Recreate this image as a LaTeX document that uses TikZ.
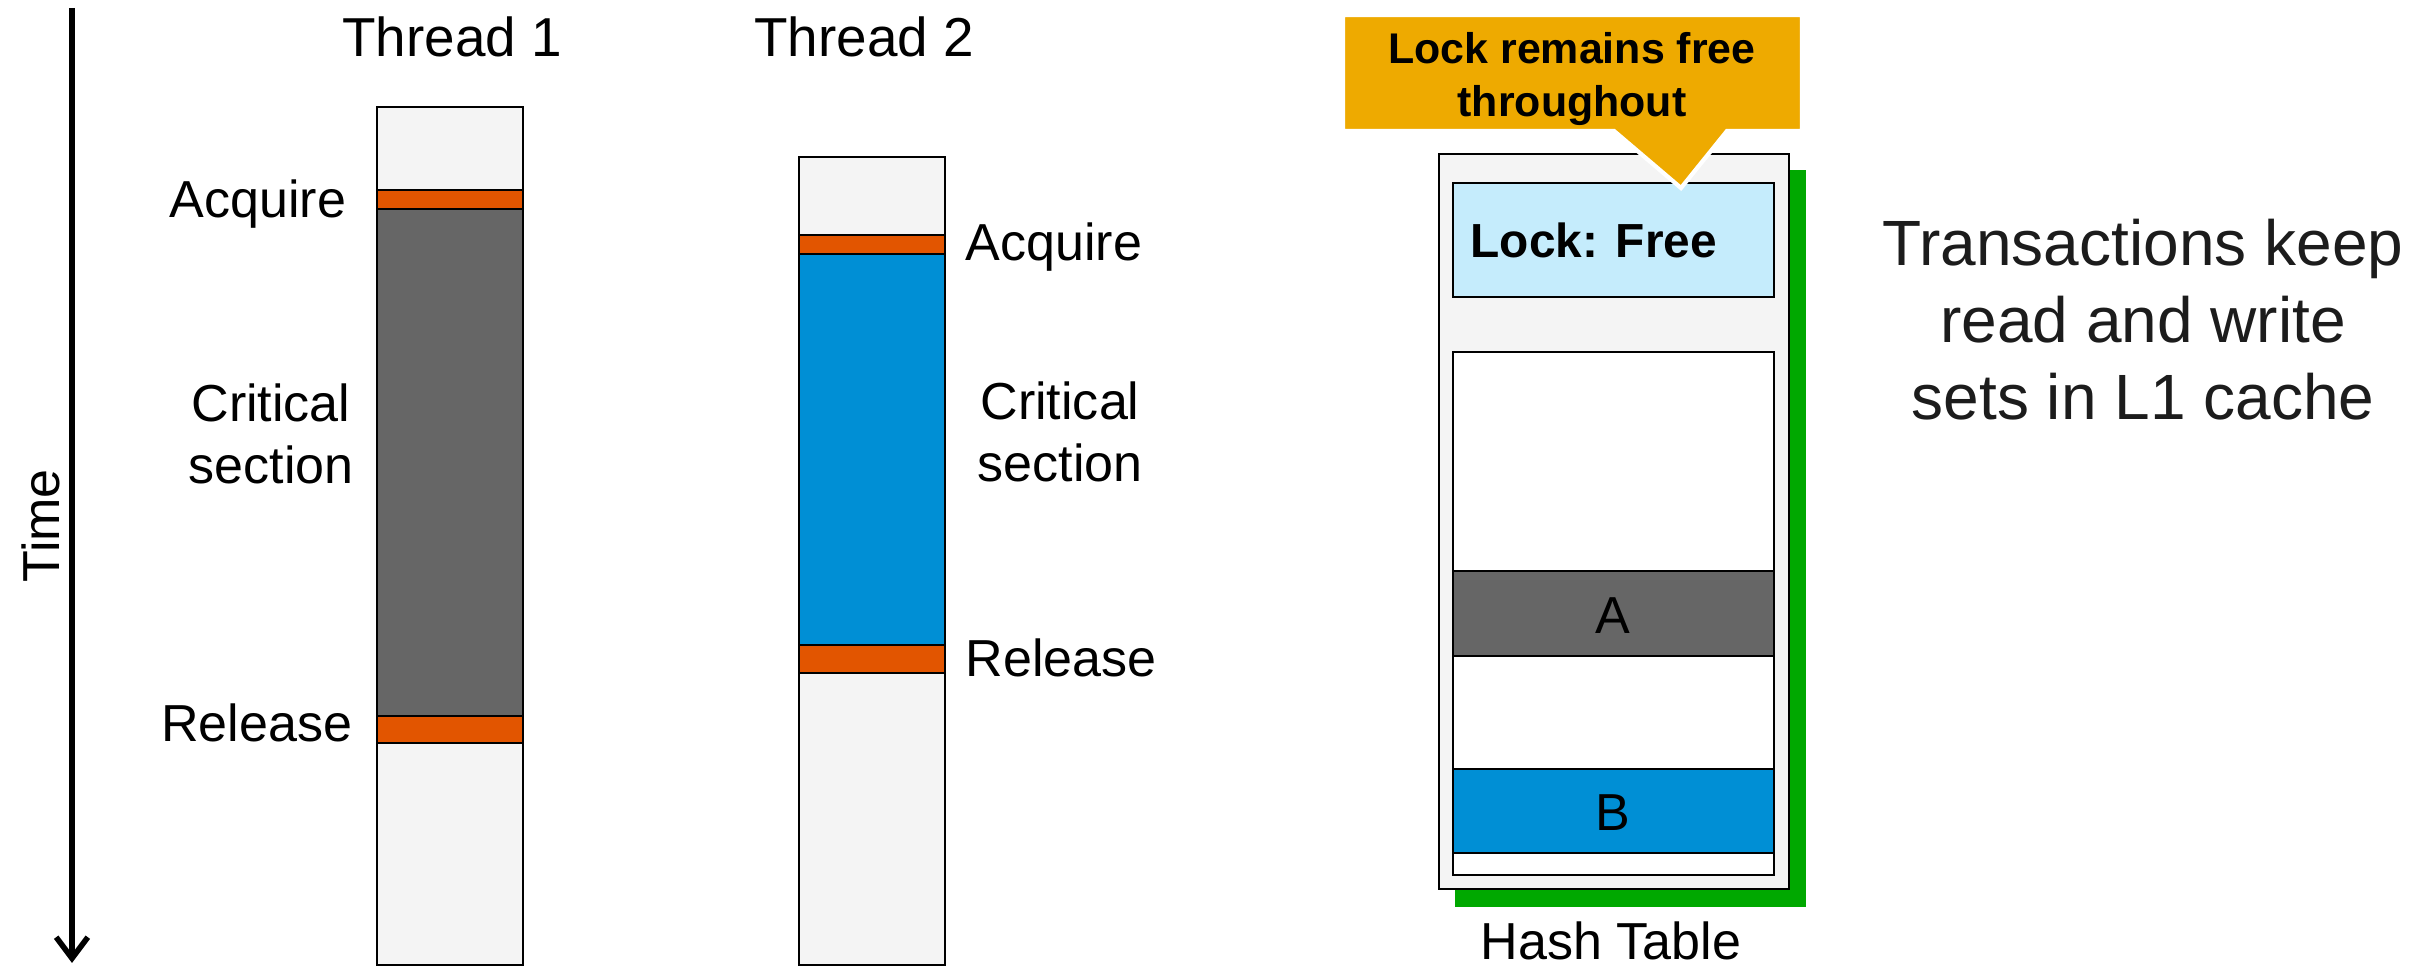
\documentclass[tikz,border=0pt]{standalone}
\usepackage{fontspec}
\setmainfont{Liberation Sans}
\usetikzlibrary{arrows.meta}

\definecolor{barbg}{RGB}{244,244,244}
\definecolor{lockorange}{RGB}{226,85,0}
\definecolor{csgray}{RGB}{102,102,102}
\definecolor{csblue}{RGB}{0,143,213}
\definecolor{lockblue}{RGB}{197,236,252}
\definecolor{shadowgreen}{RGB}{0,168,0}
\definecolor{calloutfill}{RGB}{238,170,0}
\definecolor{notetext}{RGB}{28,28,28}

\begin{document}
\begin{tikzpicture}[x=0.01cm, y=-0.01cm,
  txt/.style={inner sep=0pt, font=\fontsize{14.8}{17.4}\selectfont},
  headtxt/.style={inner sep=0pt, anchor=base, font=\fontsize{15.6}{18}\selectfont},
  box/.style={draw=black, line width=0.75pt},
  timeaxis/.style={line width=1.6pt, -{Straight Barb[length=6pt,width=9pt]}},
]
\useasboundingbox (0,0) rectangle (2426,968);

% time axis
\coordinate (tstart) at (72,8);
\coordinate (tend) at (72,963);
\draw[timeaxis] (tstart) -- (tend);
\node[txt, rotate=90, font=\fontsize{14.8}{17}\selectfont] (time) at (41,526) {Time};

% thread 1
\node[headtxt] (th1) at (452,57) {Thread 1};
\draw[box, fill=barbg] (377,107) rectangle (523,965);
\draw[box, fill=csgray] (377,209) rectangle (523,716);
\draw[box, fill=lockorange] (377,190) rectangle (523,209);
\draw[box, fill=lockorange] (377,716) rectangle (523,743);
\node[txt, anchor=base east] (acq1) at (347,218) {Acquire};
\node[txt, align=center] (cs1) at (271,434) {Critical\\section};
\node[txt, anchor=base east] (rel1) at (353,742) {Release};

% thread 2
\node[headtxt] (th2) at (864,57) {Thread 2};
\draw[box, fill=barbg] (799,157) rectangle (945,965);
\draw[box, fill=csblue] (799,254) rectangle (945,645);
\draw[box, fill=lockorange] (799,235) rectangle (945,254);
\draw[box, fill=lockorange] (799,645) rectangle (945,673);
\node[txt, anchor=base west] (acq2) at (965,261) {Acquire};
\node[txt, align=center] (cs2) at (1060,432) {Critical\\section};
\node[txt, anchor=base west] (rel2) at (965,677) {Release};

% hash table with its shadow
\fill[shadowgreen] (1455,170) rectangle (1806,907);
\draw[box, fill=barbg] (1439,154) rectangle (1789,889);
\draw[box, fill=lockblue] (1453,183) rectangle (1774,297);
\node[txt, anchor=base west, font=\bfseries\fontsize{13.6}{16}\selectfont] (lock) at (1470,258) {Lock: Free};
\draw[box, fill=white] (1453,352) rectangle (1774,875);
\draw[box, fill=csgray] (1453,571) rectangle (1774,656);
\draw[box, fill=csblue] (1453,769) rectangle (1774,853);
\node[txt] (entA) at (1613,616) {A};
\node[txt] (entB) at (1613,813) {B};
\node[txt, anchor=base] (htlabel) at (1611,960) {Hash Table};

% callout
\draw[white, line width=1.2pt, fill=calloutfill]
  (1343,15) -- (1802,15) -- (1802,131) -- (1727,131) -- (1681,188)
  -- (1614,131) -- (1343,131) -- cycle;
\node[txt, align=center, font=\bfseries\fontsize{12.2}{15}\selectfont] (note) at (1572,79)
  {Lock remains free\\throughout};

% side remark
\node[txt, align=center, text=notetext, font=\fontsize{18.2}{21.9}\selectfont] (remark) at (2143,320)
  {Transactions keep\\read and write\\sets in L1 cache};
\end{tikzpicture}
\end{document}
